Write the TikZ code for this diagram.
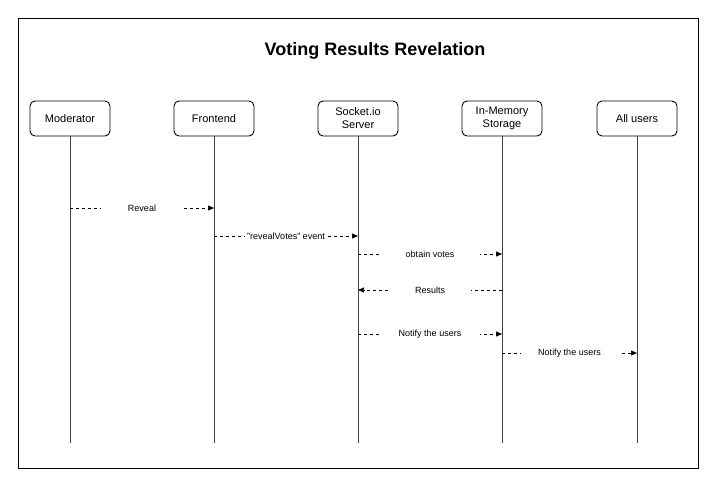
\documentclass[tikz,border=0pt]{standalone}
\usepackage{fontspec}
\setmainfont{Liberation Sans}
\usetikzlibrary{arrows.meta}
\begin{document}
\begin{tikzpicture}[x=1pt,y=-1pt,
  actor/.style={draw=black,line width=0.9pt,rounded corners=5pt,fill=white,minimum width=80pt,minimum height=35pt,align=center,font=\fontsize{11}{13}\selectfont,inner sep=1pt},
  life/.style={draw=black!75,line width=0.9pt},
  msg/.style={draw=black,line width=0.7pt,dash pattern=on 3pt off 3pt,-{Triangle[length=6pt,width=5pt]}},
  lbl/.style={fill=white,font=\fontsize{9}{11}\selectfont,inner sep=0pt,minimum height=10pt}]
\useasboundingbox (0,0) rectangle (719,487);
\draw[line width=0.9pt] (18,18) rectangle (698,468);
\node[font=\bfseries\fontsize{18}{22}\selectfont] (title) at (375,51) {Voting Results Revelation};
\node[actor] (mod) at (70,118.5) {Moderator};
\node[actor] (fe) at (214,118.5) {Frontend};
\node[actor] (srv) at (358,118.5) {Socket.io\\Server};
\node[actor] (mem) at (502,118.5) {In-Memory\\Storage};
\node[actor] (all) at (637,118.5) {All users};
\foreach \n/\x in {mod/70,fe/214,srv/358,mem/502,all/637}{
  \coordinate (\n end) at (\x,443);
  \draw[life] (\n.south) -- (\n end);
}
\coordinate (r1a) at (70,208); \coordinate (r1b) at (214,208);
\coordinate (r2a) at (214,236); \coordinate (r2b) at (358,236);
\coordinate (r3a) at (358,254); \coordinate (r3b) at (502,254);
\coordinate (r4a) at (502,290); \coordinate (r4b) at (358,290);
\coordinate (r5a) at (358,334); \coordinate (r5b) at (502,334);
\coordinate (r6a) at (502,353); \coordinate (r6b) at (637,353);
\draw[msg] (r1a) -- node[lbl,minimum width=82pt] (l1) {Reveal} (r1b);
\draw[msg] (r2a) -- node[lbl,minimum width=82pt] (l2) {"revealVotes" event} (r2b);
\draw[msg] (r3a) -- node[lbl,minimum width=100pt] (l3) {obtain votes} (r3b);
\draw[msg] (r4a) -- node[lbl,minimum width=82pt] (l4) {Results} (r4b);
\draw[msg] (r5a) -- node[lbl,minimum width=100pt] (l5) {Notify the users} (r5b);
\draw[msg] (r6a) -- node[lbl,minimum width=98pt] (l6) {Notify the users} (r6b);
\end{tikzpicture}
\end{document}
